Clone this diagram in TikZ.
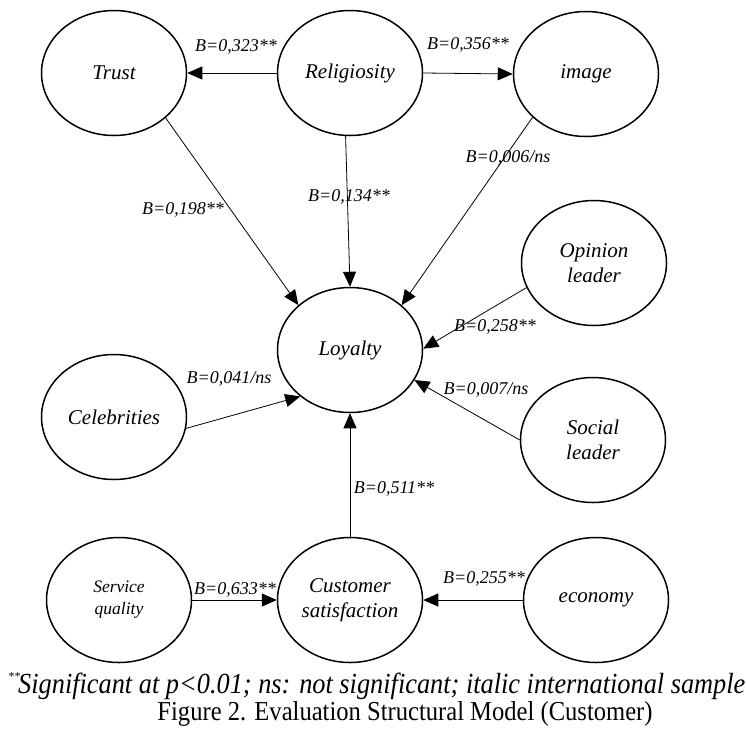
\documentclass[tikz,border=0pt]{standalone}
\usepackage{fontspec}
\setmainfont{Liberation Serif}
\usetikzlibrary{shapes.geometric,arrows.meta}
\begin{document}
\begin{tikzpicture}[x=1pt,y=-1pt,
  var/.style={draw,ellipse,line width=1.5pt,minimum width=145pt,minimum height=125pt,inner sep=0pt,align=center,font=\fontsize{21}{25}\selectfont\itshape},
  lbl/.style={inner sep=0pt,font=\fontsize{18}{20}\selectfont\itshape},
  conn/.style={line width=0.8pt,-{Triangle[length=15pt,width=13pt]}}]
\useasboundingbox (0,0) rectangle (746,732);
% variables
\node[var] (trust) at (114,73) {Trust};
\node[var] (relig) at (350,73) {Religiosity};
\node[var] (image) at (586,74) {image};
\node[var] (opin) at (594,263) {Opinion\\leader};
\node[var] (loyal) at (350,350) {Loyalty};
\node[var] (celeb) at (114,417) {Celebrities};
\node[var] (social) at (593,440) {Social\\leader};
\node[var,font=\fontsize{17.5}{22}\selectfont\itshape] (serv) at (119,600) {Service\\quality};
\node[var] (cust) at (350,600) {Customer\\satisfaction};
\node[var] (econ) at (596,600) {economy};
% connectors
\draw[conn] (relig.west) -- (trust.east);
\draw[conn] (relig.east) -- (image.west);
\draw[conn] (trust.-41) -- (loyal.139);
\draw[conn] (relig.-94) -- (loyal.90);
\draw[conn] (image.219) -- (loyal.41);
\draw[conn] (opin.200) -- (loyal.1);
\draw[conn] (social.180) -- (loyal.-25);
\draw[conn] (celeb.-9) -- (loyal.223);
\draw[conn] (cust.north) -- (loyal.south);
\draw[conn] (serv.east) -- (cust.west);
\draw[conn] (econ.west) -- (cust.east);
% labels
\node[lbl] (l323) at (236,47) {B=0,323**};
\node[lbl] (l356) at (468,45) {B=0,356**};
\node[lbl] (l198) at (183,210) {B=0,198**};
\node[lbl] (l134) at (349,197) {B=0,134**};
\node[lbl] (l006) at (508,158) {B=0,006/ns};
\node[lbl] (l258) at (495,327) {B=0,258**};
\node[lbl] (l007) at (486,390) {B=0,007/ns};
\node[lbl] (l041) at (229,379) {B=0,041/ns};
\node[lbl] (l511) at (394,489) {B=0,511**};
\node[lbl] (l633) at (235,590) {B=0,633**};
\node[lbl] (l255) at (484,579) {B=0,255**};
% notes
\node[anchor=base west,inner sep=0pt,font=\fontsize{12}{12}\selectfont\itshape] (stars) at (8,680) {**};
\node[anchor=base west,inner sep=0pt] (note) at (18,693) {\resizebox{727pt}{20.5pt}{\itshape Significant at p<0.01; ns: not significant; italic international sample}};
\node[anchor=base,inner sep=0pt] (cap) at (405,720) {\resizebox{495pt}{19pt}{Figure 2. Evaluation Structural Model (Customer)}};
\end{tikzpicture}
\end{document}
